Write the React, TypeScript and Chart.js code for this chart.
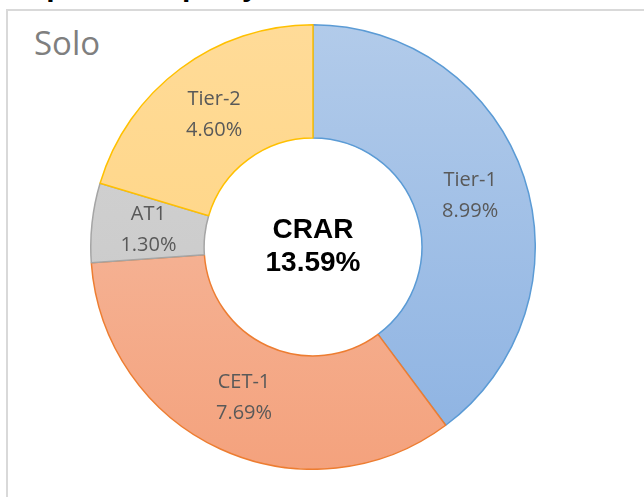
import React, { useEffect, useRef } from "react";
import { Chart, registerables } from "chart.js";

Chart.register(...registerables);

const labels = ["Tier-1", "CET-1", "AT1", "Tier-2"];
const values = [8.99, 7.69, 1.3, 4.6];
const gradientTop = ["#b2cbea", "#f6c0a8", "#d4d4d4", "#ffdb98"];
const gradientBottom = ["#8cb2e2", "#f4a27d", "#c6c6c6", "#ffd27a"];
const borderColors = ["#5b9bd5", "#ed7d31", "#a5a5a5", "#ffc000"];
const centerTitle = "CRAR";
const crarValue = values[0] + values[3];

const labelPlugin = {
  id: "sliceLabels",
  afterDatasetsDraw(chart: any) {
    const ctx = chart.ctx;
    const meta = chart.getDatasetMeta(0);
    ctx.save();
    ctx.fillStyle = "#595959";
    ctx.font = "20px 'Open Sans'";
    ctx.textAlign = "center";
    ctx.textBaseline = "middle";
    meta.data.forEach((arc: any, i: number) => {
      const p = arc.getCenterPoint();
      ctx.fillText(labels[i], p.x, p.y - 15);
      ctx.fillText(values[i].toFixed(2) + "%", p.x, p.y + 16);
    });
    const cx = (chart.chartArea.left + chart.chartArea.right) / 2;
    const cy = (chart.chartArea.top + chart.chartArea.bottom) / 2;
    ctx.fillStyle = "#000000";
    ctx.font = "bold 28px 'Liberation Sans', Arial, sans-serif";
    ctx.fillText(centerTitle, cx, cy - 17);
    ctx.fillText(crarValue.toFixed(2) + "%", cx, cy + 16);
    ctx.restore();
  },
};

export default function App() {
  const ref = useRef<HTMLCanvasElement | null>(null);

  useEffect(() => {
    if (!ref.current) return;
    const chart = new Chart(ref.current, {
      type: "doughnut",
      data: {
        labels,
        datasets: [
          {
            data: values,
            backgroundColor: (c: any) => {
              const ch = c.chart;
              const area = ch.chartArea;
              const i = c.dataIndex ?? 0;
              if (!area) return gradientTop[i];
              const g = ch.ctx.createLinearGradient(0, area.top, 0, area.bottom);
              g.addColorStop(0, gradientTop[i]);
              g.addColorStop(1, gradientBottom[i]);
              return g;
            },
            borderColor: borderColors,
            borderWidth: 1.5,
            hoverOffset: 0,
          },
        ],
      },
      options: {
        responsive: false,
        animation: false,
        cutout: "49%",
        layout: { padding: 0 },
        plugins: {
          legend: { display: false },
          tooltip: { enabled: false },
          title: { display: false },
        },
      },
      plugins: [labelPlugin],
    });
    return () => chart.destroy();
  }, []);

  return (
    <div
      style={{
        position: "fixed",
        left: 0,
        top: 0,
        width: 644,
        height: 497,
        overflow: "hidden",
        background: "#ffffff",
      }}
    >
      <div
        style={{
          position: "absolute",
          left: 8,
          top: -29,
          font: "bold 30px 'Liberation Sans', Arial, sans-serif",
          lineHeight: "30px",
          whiteSpace: "nowrap",
          color: "#000",
        }}
      >
        Capital Adequacy
      </div>
      <div
        style={{
          position: "absolute",
          left: 6,
          top: 9,
          width: 700,
          height: 600,
          border: "2px solid #d9d9d9",
          background: "#ffffff",
        }}
      />
      <div
        style={{
          position: "absolute",
          left: 34,
          top: 23,
          font: "33px 'Open Sans', sans-serif",
          color: "#7f7f7f",
          lineHeight: "40px",
        }}
      >
        Solo
      </div>
      <canvas
        ref={ref}
        width={446}
        height={446}
        style={{ position: "absolute", left: 90, top: 24, width: 446, height: 446 }}
      />
    </div>
  );
}
